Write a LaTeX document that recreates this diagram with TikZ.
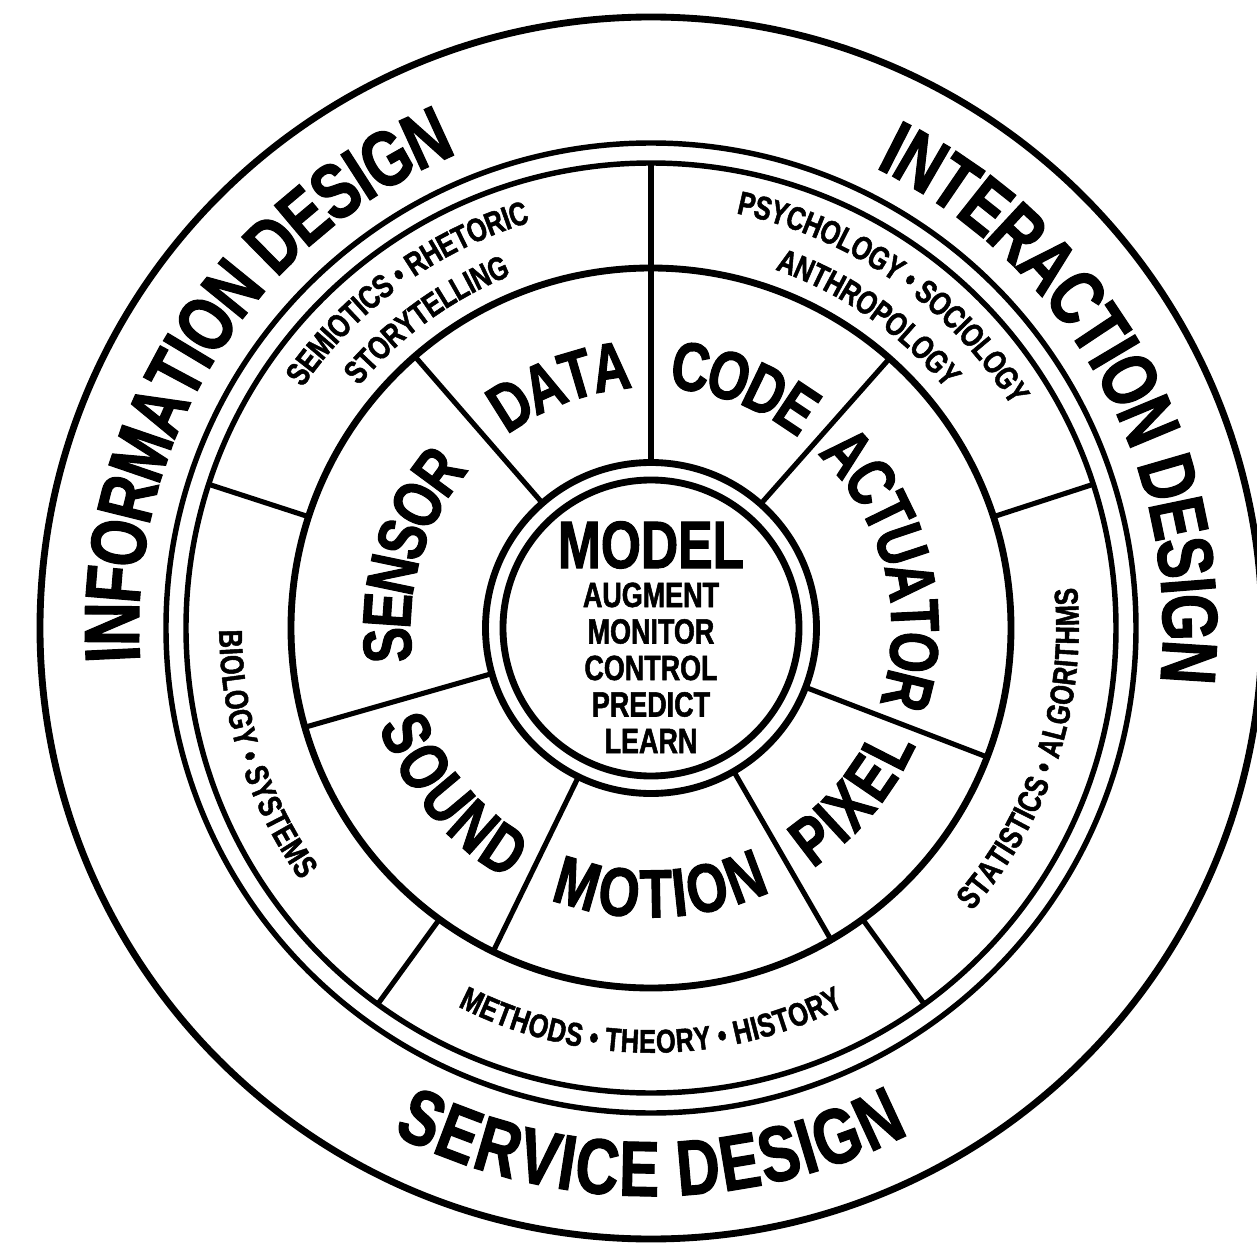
\documentclass[tikz,border=0pt]{standalone}
\usepackage{fontspec}
\usetikzlibrary{decorations.text}

\newfontfamily\condsans{Liberation Sans}[FakeStretch=0.77, BoldFeatures={FakeBold=1.5}]
\newcommand\designfont{\condsans\bfseries\fontsize{44.5}{45}\selectfont}
\newcommand\fieldfont{\condsans\bfseries\fontsize{18.7}{19}\selectfont}
\newcommand\partfont{\condsans\bfseries\fontsize{38.9}{39}\selectfont}
\newcommand\modelfont{\condsans\bfseries\fontsize{38.1}{39}\selectfont}
\newcommand\verbfont{\condsans\bfseries\fontsize{19.9}{21}\selectfont}

\tikzset{
  ring/.style={line width=3.1pt},
  heavy ring/.style={line width=3.9pt},
  spoke/.style={line width=2.9pt},
  outer label/.style={decorate, decoration={text along path, text align=center,
    raise=-0.56cm, text={|\designfont|#1}}},
  field label/.style={decorate, decoration={text along path, text align=center,
    raise=-0.235cm, text={|\fieldfont|#1}}},
  part label/.style={decorate, decoration={text along path, text align=center,
    raise=-0.49cm, text={|\partfont|#1}}},
}

\begin{document}
\begin{tikzpicture}
  \useasboundingbox (-13.02,-12.46) rectangle (12.12,12.56);

  % rings
  \draw [heavy ring] (0,0) circle (12.22);
  \draw [ring] (0,0) circle (9.70);
  \draw [ring] (0,0) circle (9.30);
  \draw [heavy ring] (0,0) circle (7.20);
  \draw [heavy ring] (0,0) circle (3.31);
  \draw [heavy ring] (0,0) circle (2.96);

  % spokes
  \foreach \a in {18,90,162,234,306}
    \draw [spoke] (\a:7.2) -- (\a:9.3);
  \foreach \a in {90,48.5,-21,-60,-116,-164,131}
    \draw [spoke] (\a:3.31) -- (\a:7.2);

  % design fields
  \path [outer label={INFORMATION DESIGN}] (198:10.8) arc [start angle=198, end angle=98, radius=10.8];
  \path [outer label={INTERACTION DESIGN}] (79:10.8) arc [start angle=79, end angle=-21, radius=10.8];
  \path [outer label={SERVICE DESIGN}] (220:10.8) arc [start angle=220, end angle=320, radius=10.8];

  % disciplines
  \path [field label={SEMIOTICS • RHETORIC}] (161:8.70) arc [start angle=161, end angle=91, radius=8.70];
  \path [field label={STORYTELLING}] (161:7.82) arc [start angle=161, end angle=91, radius=7.82];
  \path [field label={PSYCHOLOGY • SOCIOLOGY}] (90:8.70) arc [start angle=90, end angle=20, radius=8.70];
  \path [field label={ANTHROPOLOGY}] (90:7.82) arc [start angle=90, end angle=20, radius=7.82];
  \path [field label={BIOLOGY • SYSTEMS}] (163:8.40) arc [start angle=163, end angle=233, radius=8.40];
  \path [field label={STATISTICS • ALGORITHMS}] (307:8.32) arc [start angle=307, end angle=377, radius=8.32];
  \path [field label={METHODS • THEORY • HISTORY}] (235:8.26) arc [start angle=235, end angle=305, radius=8.26];

  % parts
  \path [part label={DATA}] (150.5:5.3) arc [start angle=150.5, end angle=70.5, radius=5.3];
  \path [part label={CODE}] (109:5.3) arc [start angle=109, end angle=29, radius=5.3];
  \path [part label={ACTUATOR}] (54:5.3) arc [start angle=54, end angle=-26, radius=5.3];
  \path [part label={PIXEL}] (-80:5.3) arc [start angle=-80, end angle=0, radius=5.3];
  \path [part label={MOTION}] (-128:5.3) arc [start angle=-128, end angle=-48, radius=5.3];
  \path [part label={SOUND}] (180:5.3) arc [start angle=180, end angle=260, radius=5.3];
  \path [part label={SENSOR}] (203.5:5.3) arc [start angle=203.5, end angle=123.5, radius=5.3];

  % model
  \node (model) [anchor=base, font=\modelfont] at (0,1.2) {MODEL};
  \foreach \w [count=\i] in {AUGMENT,MONITOR,CONTROL,PREDICT,LEARN}
    \node (verb\i) [anchor=base, font=\verbfont] at (0,{0.42-0.73*(\i-1)}) {\w};
\end{tikzpicture}
\end{document}
